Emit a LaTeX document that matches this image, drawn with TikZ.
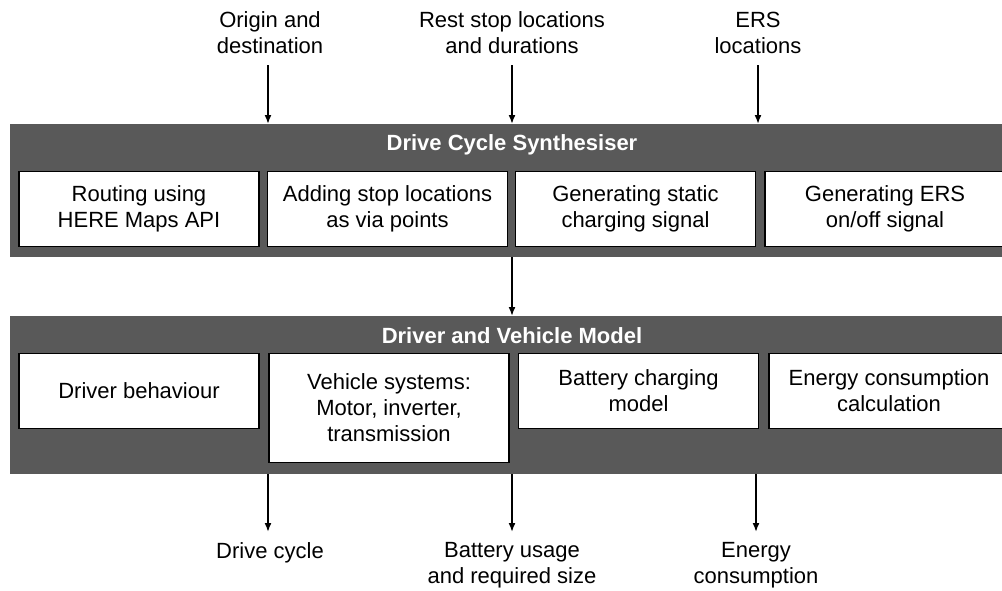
\documentclass[tikz,border=0pt]{standalone}
\usepackage{fontspec}
\setmainfont{Liberation Sans}
\usetikzlibrary{arrows.meta,positioning}
\definecolor{gris}{HTML}{595959}
\begin{document}
\begin{tikzpicture}[
      x=1pt, y=-1pt,
      font=\fontsize{22}{26}\selectfont,
      bande/.style={
        fill=gris,
        anchor=north west,
        inner sep=0,
        minimum width=1010
      },
      titre/.style={
        text=white,
        font=\fontsize{22}{26}\selectfont\bfseries
      },
      boite/.style={
        draw,
        fill=white,
        line width=1.2pt,
        anchor=north,
        align=center,
        minimum width=240,
        minimum height=75
      },
      etiq/.style={
        align=center,
        inner sep=0
      },
      fleche/.style={
        -{Latex[length=9pt,width=7pt]},
        line width=1.7pt
      }
    ]
    \clip (0,0) rectangle (1002,590);
    % synthesiser
    \node[bande, minimum height=133] (haut) at (10,124) {};
    \node[titre] (thaut) at (512,145) {Drive Cycle Synthesiser};
    \node[boite] (route) at (139,171) {Routing using\\HERE Maps API};
    \node[boite] (arret) at (387.5,171) {Adding stop locations\\as via points};
    \node[boite] (stat) at (635.5,171) {Generating static\\charging signal};
    \node[boite] (ers) at (885,171) {Generating ERS\\on/off signal};
    % model
    \node[bande, minimum height=158] (bas) at (10,316) {};
    \node[titre] (tbas) at (512,336) {Driver and Vehicle Model};
    \node[boite] (cond) at (139,353) {Driver behaviour};
    \node[boite, minimum height=109] (veh) at (389,353) {Vehicle systems:\\Motor, inverter,\\transmission};
    \node[boite] (batt) at (638.5,353) {Battery charging\\model};
    \node[boite] (conso) at (889,353) {Energy consumption\\calculation};
    % inputs
    \node[etiq, anchor=south] (orig) at (270,54) {Origin and\\destination};
    \node[etiq, anchor=south] (repos) at (512,54) {Rest stop locations\\and durations};
    \node[etiq, anchor=south] (lieux) at (758,54) {ERS\\locations};
    \draw[fleche] ([yshift=-11pt]orig.south -| 268,0) -- (268,124);
    \draw[fleche] ([yshift=-11pt]repos.south) -- (repos.south |- haut.north);
    \draw[fleche] ([yshift=-11pt]lieux.south) -- (lieux.south |- haut.north);
    \draw[fleche] (haut.south -| thaut) -- (bas.north -| thaut);
    % outputs
    \node[etiq, anchor=north] (cycle) at (270,542) {Drive cycle};
    \node[etiq, anchor=north] (usage) at (512,542) {Battery usage\\and required size};
    \node[etiq, anchor=north] (energ) at (756,542) {Energy\\consumption};
    \draw[fleche] (268,474) -- ([yshift=10pt]cycle.north -| 268,0);
    \draw[fleche] (bas.south -| usage) -- ([yshift=10pt]usage.north);
    \draw[fleche] (bas.south -| energ) -- ([yshift=10pt]energ.north);
  \end{tikzpicture}
\end{document}
